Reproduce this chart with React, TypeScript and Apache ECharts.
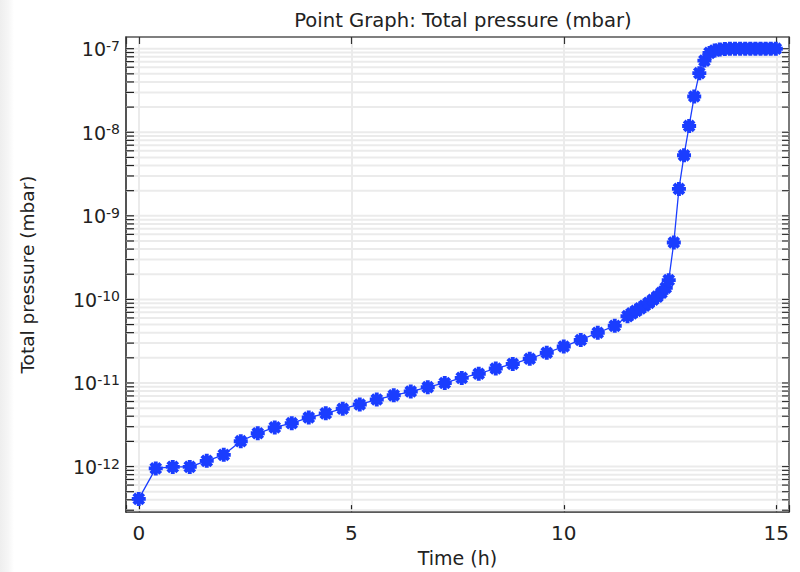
import React, { useEffect, useRef } from "react";
import * as echarts from "echarts";

// Time (h)
const times: number[] = [
  0, 0.4, 0.8, 1.2, 1.6, 2.0, 2.4, 2.8, 3.2, 3.6, 4.0, 4.4, 4.8, 5.2, 5.6, 6.0,
  6.4, 6.8, 7.2, 7.6, 8.0, 8.4, 8.8, 9.2, 9.6, 10.0, 10.4, 10.8, 11.2,
  11.5, 11.6, 11.7, 11.8, 11.9, 12.0, 12.1, 12.2, 12.3, 12.4, 12.47,
  12.59, 12.71, 12.83, 12.95, 13.07, 13.19, 13.31, 13.43, 13.55, 13.67,
  13.79, 13.91, 14.03, 14.15, 14.27, 14.39, 14.51, 14.63, 14.75, 14.87, 14.99,
];

// Total pressure (mbar)
const pressures: number[] = [
  4.1e-13, 9.5e-13, 9.9e-13, 9.9e-13, 1.17e-12, 1.38e-12, 2.01e-12, 2.5e-12,
  2.94e-12, 3.3e-12, 3.86e-12, 4.33e-12, 4.92e-12, 5.53e-12, 6.34e-12, 7.12e-12,
  7.9e-12, 8.9e-12, 1.0e-11, 1.15e-11, 1.29e-11, 1.49e-11, 1.69e-11, 1.95e-11,
  2.3e-11, 2.73e-11, 3.27e-11, 3.99e-11, 4.83e-11,
  6.3e-11, 6.8e-11, 7.3e-11, 7.8e-11, 8.4e-11, 9.1e-11, 9.9e-11, 1.08e-10,
  1.2e-10, 1.38e-10, 1.7e-10,
  4.8e-10, 2.1e-9, 5.3e-9, 1.19e-8, 2.68e-8, 5.1e-8, 7.2e-8, 8.9e-8, 9.5e-8,
  9.8e-8,
  9.9e-8, 1.0e-7, 1.0e-7, 1.0e-7, 1.0e-7, 1.0e-7, 1.0e-7, 1.0e-7, 1.0e-7,
  1.0e-7, 1.0e-7,
];

const xTicks: number[] = [0, 5, 10, 15];
const yDecades: number[] = [-13, -12, -11, -10, -9, -8, -7];

const X_MIN = -0.3;
const X_MAX = 15.3;
const Y_MIN = 2.85e-13;
const Y_MAX = 1.38e-7;

const BLUE = "#1a3dff";
const GRID = "#ebebeb";

function asteriskPath(): string {
  const c = 50;
  const half = 50;
  const w = 14;
  let d = "";
  [0, 45, 90, 135].forEach((deg) => {
    const a = (deg * Math.PI) / 180;
    const dx = Math.cos(a);
    const dy = Math.sin(a);
    const nx = -dy;
    const ny = dx;
    const pts = [
      [c + dx * half + nx * w, c + dy * half + ny * w],
      [c + dx * half - nx * w, c + dy * half - ny * w],
      [c - dx * half - nx * w, c - dy * half - ny * w],
      [c - dx * half + nx * w, c - dy * half + ny * w],
    ];
    d +=
      "M" +
      pts.map((p) => p[0].toFixed(2) + " " + p[1].toFixed(2)).join(" L") +
      " Z ";
  });
  return "path://" + d;
}

export default function App() {
  const ref = useRef<HTMLDivElement>(null);

  useEffect(() => {
    if (!ref.current) return;
    const chart = echarts.init(ref.current, null, { renderer: "svg" });

    const minorVals: number[] = [];
    yDecades.forEach((e) => {
      for (let k = 1; k <= 9; k++) {
        const v = k * Math.pow(10, e);
        if (v >= Y_MIN && v <= Y_MAX) minorVals.push(v);
      }
    });

    const lineData = times.map((t, i) => [t, pressures[i]]);

    const option: any = {
      animation: false,
      backgroundColor: "#ffffff",
      title: {
        text: "Point Graph: Total pressure (mbar)",
        left: 458,
        top: 5,
        textAlign: "center",
        textStyle: {
          fontFamily: "DejaVu Sans",
          fontSize: 19.6,
          fontWeight: "normal",
          color: "#222",
        },
      },
      graphic: [
        {
          type: "rect",
          left: 0,
          top: 0,
          shape: { width: 14, height: 572 },
          style: {
            fill: new echarts.graphic.LinearGradient(0, 0, 1, 0, [
              { offset: 0, color: "#eeeeee" },
              { offset: 0.6, color: "#f6f6f6" },
              { offset: 1, color: "#ffffff" },
            ]),
          },
          silent: true,
          z: -10,
        },
      ],
      grid: { left: 126, top: 37, width: 663, height: 483, containLabel: false },
      xAxis: [
        {
          type: "value",
          position: "bottom",
          min: X_MIN,
          max: X_MAX,
          splitNumber: 3,
          minInterval: 5,
          maxInterval: 5,
          name: "Time (h)",
          nameLocation: "middle",
          nameGap: 32,
          nameTextStyle: { fontFamily: "DejaVu Sans", fontSize: 19, color: "#222" },
          axisLine: { show: true, onZero: false, lineStyle: { color: "#222", width: 1.5 } },
          axisTick: { show: true, inside: true, length: 7, lineStyle: { color: "#222", width: 1.2 } },
          axisLabel: {
            fontFamily: "DejaVu Sans",
            fontSize: 20,
            color: "#222",
            margin: 11,
            formatter: (v: number) =>
              xTicks.some((t) => Math.abs(t - v) < 1e-6) ? String(v) : "",
          },
          splitLine: { show: true, lineStyle: { color: GRID, width: 2 } },
        },
        {
          type: "value",
          position: "top",
          min: X_MIN,
          max: X_MAX,
          splitNumber: 3,
          minInterval: 5,
          maxInterval: 5,
          axisLine: { show: true, onZero: false, lineStyle: { color: "#555", width: 1.5 } },
          axisTick: { show: true, inside: true, length: 7, lineStyle: { color: "#333", width: 1.2 } },
          axisLabel: { show: false },
          splitLine: { show: false },
        },
      ],
      yAxis: [
        {
          type: "log",
          logBase: 10,
          min: Y_MIN,
          max: Y_MAX,
          position: "left",
          name: "Total pressure (mbar)",
          nameLocation: "middle",
          nameGap: 89,
          nameRotate: 90,
          nameTextStyle: { fontFamily: "DejaVu Sans", fontSize: 18.5, color: "#222" },
          axisLine: { show: true, onZero: false, lineStyle: { color: "#222", width: 1.5 } },
          axisTick: { show: false },
          splitLine: { show: false },
          axisLabel: {
            margin: 6,
            formatter: (v: number) => {
              const l = Math.log10(v);
              const e = Math.round(l);
              if (Math.abs(l - e) > 1e-6) return "";
              return "{b|10}{s|" + e + "}";
            },
            rich: {
              b: {
                fontFamily: "DejaVu Sans",
                fontSize: 19,
                lineHeight: 20,
                color: "#222",
                padding: [5, 0, 0, 0],
                verticalAlign: "bottom",
              },
              s: {
                fontFamily: "DejaVu Sans",
                fontSize: 14,
                lineHeight: 15,
                color: "#222",
                verticalAlign: "top",
              },
            },
          },
        },
        {
          type: "log",
          logBase: 10,
          min: Y_MIN,
          max: Y_MAX,
          position: "right",
          axisLine: { show: true, onZero: false, lineStyle: { color: "#555", width: 1.5 } },
          axisTick: { show: false },
          axisLabel: { show: false },
          splitLine: { show: false },
        },
      ],
      series: [
        {
          type: "custom",
          silent: true,
          z: 1,
          xAxisIndex: 0,
          yAxisIndex: 0,
          data: [[0, 1e-10]],
          renderItem: (params: any, api: any) => {
            const cs = params.coordSys;
            const x0 = cs.x;
            const x1 = cs.x + cs.width;
            const children: any[] = [];
            minorVals.forEach((v) => {
              const y = api.coord([0, v])[1];
              children.push({
                type: "line",
                shape: { x1: x0, y1: y, x2: x1, y2: y },
                style: { stroke: GRID, lineWidth: 2 },
              });
            });
            minorVals.forEach((v) => {
              const y = api.coord([0, v])[1];
              children.push({
                type: "line",
                shape: { x1: x0, y1: y, x2: x0 + 8, y2: y },
                style: { stroke: "#222", lineWidth: 1.2 },
              });
              children.push({
                type: "line",
                shape: { x1: x1 - 7, y1: y, x2: x1, y2: y },
                style: { stroke: "#333", lineWidth: 1.2 },
              });
            });
            return { type: "group", children };
          },
        },
        {
          type: "line",
          z: 5,
          xAxisIndex: 0,
          yAxisIndex: 0,
          data: lineData,
          symbol: asteriskPath(),
          symbolSize: 14,
          showSymbol: true,
          lineStyle: { color: BLUE, width: 1.3 },
          itemStyle: { color: BLUE },
        },
      ],
    };

    chart.setOption(option);
    return () => chart.dispose();
  }, []);

  return (
    <div
      ref={ref}
      style={{ position: "fixed", left: 0, top: 0, width: 800, height: 572 }}
    />
  );
}
